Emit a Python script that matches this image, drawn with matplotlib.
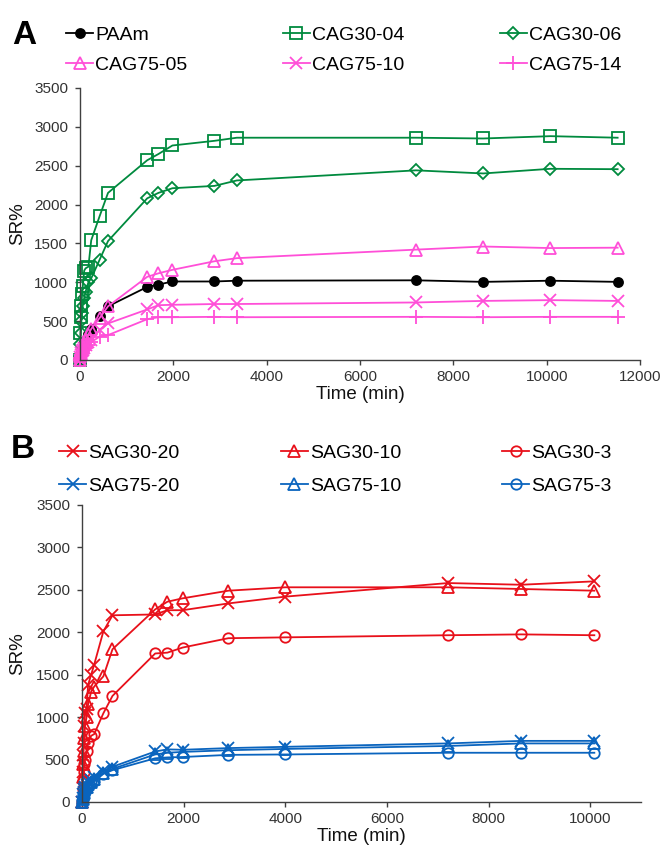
import matplotlib

matplotlib.use("Agg")
from matplotlib import pyplot as plt

plt.rcParams["font.family"] = ["Liberation Sans", "DejaVu Sans"]

GREEN = "#008a3e"
PINK = "#ff4fd8"
RED = "#e8101a"
BLUE = "#0a64be"

# panel A: swelling ratio vs time
time_a = [0, 10, 20, 30, 45, 60, 90, 120, 180, 240, 420, 600,
          1440, 1680, 1980, 2880, 3360, 7200, 8640, 10080, 11520]
paam = [0, 50, 80, 110, 140, 170, 220, 260, 330, 400, 560, 690,
        940, 970, 1010, 1010, 1020, 1025, 1005, 1020, 1005]
cag30_04 = [0, 350, 550, 700, 850, 950, 1150, 1180, 1200, 1540, 1850, 2150,
            2570, 2650, 2760, 2820, 2860, 2860, 2850, 2880, 2860]
cag30_06 = [0, 200, 350, 500, 600, 700, 800, 880, 1000, 1050, 1290, 1530,
            2080, 2150, 2210, 2240, 2310, 2440, 2400, 2460, 2455]
cag75_05 = [0, 50, 80, 110, 140, 170, 220, 260, 330, 400, 540, 690,
            1070, 1115, 1160, 1270, 1310, 1420, 1460, 1440, 1445]
cag75_10 = [0, 40, 70, 90, 110, 130, 160, 190, 230, 260, 390, 470,
            650, 705, 710, 720, 720, 740, 760, 770, 760]
cag75_14 = [0, 30, 50, 70, 90, 110, 130, 150, 190, 230, 300, 320,
            525, 550, 550, 555, 550, 555, 550, 555, 555]

# panel B
time_b = [0, 10, 20, 30, 45, 60, 90, 120, 180, 240, 420, 600,
          1440, 1680, 1980, 2880, 4000, 7200, 8640, 10080]
sag30_20 = [0, 350, 550, 700, 900, 1050, 1100, 1380, 1500, 1620, 2010, 2200,
            2210, 2260, 2260, 2340, 2420, 2580, 2560, 2600]
sag30_10 = [0, 300, 450, 600, 750, 900, 1000, 1150, 1300, 1360, 1480, 1800,
            2270, 2360, 2400, 2490, 2530, 2530, 2510, 2490]
sag30_3 = [0, 150, 250, 350, 450, 500, 600, 700, 780, 800, 1045, 1250,
           1750, 1760, 1820, 1930, 1940, 1965, 1975, 1965]
sag75_20 = [0, 50, 90, 120, 150, 180, 200, 230, 260, 290, 365, 415,
            595, 620, 615, 635, 650, 690, 720, 720]
sag75_10 = [0, 40, 80, 110, 140, 160, 180, 210, 240, 270, 340, 390,
            560, 580, 590, 610, 625, 660, 690, 690]
sag75_3 = [0, 30, 60, 90, 120, 140, 160, 190, 220, 245, 330, 375,
           515, 525, 530, 555, 560, 580, 580, 580]

TICK_COLOR = "#333333"


def style_axes(ax, xmax, xticks):
    ax.set_xlim(0, xmax)
    ax.set_ylim(0, 3500)
    ax.set_xticks(xticks)
    ax.set_yticks(range(0, 3501, 500))
    for side in ("top", "right"):
        ax.spines[side].set_visible(False)
    for side in ("left", "bottom"):
        ax.spines[side].set_color("#404040")
        ax.spines[side].set_linewidth(1.0)
    ax.tick_params(direction="out", length=3.5, width=1.0, color="#404040",
                   labelsize=11, labelcolor=TICK_COLOR)
    ax.tick_params(axis="y", pad=5)
    ax.tick_params(axis="x", pad=4)
    ax.set_xlabel("Time (min)", fontsize=13.5, color="#111111", labelpad=1)
    ax.set_ylabel("SR%", fontsize=13.5, color="#111111")


def series(ax, t, y, color, marker, ms, filled=False, label=None):
    return ax.plot(t, y, color=color, lw=1.3, marker=marker, ms=ms, mew=1.3,
                   mfc=color if filled else "none", mec=color,
                   clip_on=False, label=label)[0]


def legend_rows(ax, handles, anchor, pitch_pad, spacing):
    # reorder so that the legend fills row by row
    order = [0, 3, 1, 4, 2, 5]
    hs = [handles[i] for i in order]
    ax.legend(handles=hs, labels=[h.get_label() for h in hs], ncol=3,
              loc="upper left", bbox_to_anchor=anchor,
              bbox_transform=ax.figure.transFigure, frameon=False,
              fontsize=14, handlelength=1.4, handletextpad=0.1,
              columnspacing=pitch_pad, labelspacing=spacing, borderpad=0,
              borderaxespad=0)


fig = plt.figure(figsize=(6.64, 8.5), dpi=100)

ax0 = fig.add_axes([0.1205, 0.5765, 0.8434, 0.32])
h = [
    series(ax0, time_a, paam, "black", "o", 6.5, filled=True, label="PAAm"),
    series(ax0, time_a, cag30_04, GREEN, "s", 9, label="CAG30-04"),
    series(ax0, time_a, cag30_06, GREEN, "D", 6.3, label="CAG30-06"),
    series(ax0, time_a, cag75_05, PINK, "^", 9, label="CAG75-05"),
    series(ax0, time_a, cag75_10, PINK, "x", 9, label="CAG75-10"),
    series(ax0, time_a, cag75_14, PINK, "+", 10, label="CAG75-14"),
]
style_axes(ax0, 12000, range(0, 12001, 2000))
ax0.yaxis.set_label_coords(-0.097, 0.5)
legend_rows(ax0, h, (66 / 664, 1 - 26 / 850), 4.9, 0.67)

ax1 = fig.add_axes([0.1235, 0.0565, 0.842, 0.3494])
h = [
    series(ax1, time_b, sag30_20, RED, "x", 9, label="SAG30-20"),
    series(ax1, time_b, sag30_10, RED, "^", 8.5, label="SAG30-10"),
    series(ax1, time_b, sag30_3, RED, "o", 7.5, label="SAG30-3"),
    series(ax1, time_b, sag75_20, BLUE, "x", 9, label="SAG75-20"),
    series(ax1, time_b, sag75_10, BLUE, "^", 8.5, label="SAG75-10"),
    series(ax1, time_b, sag75_3, BLUE, "o", 7.5, label="SAG75-3"),
]
style_axes(ax1, 11000, range(0, 10001, 2000))
ax1.yaxis.set_label_coords(-0.1, 0.5)
legend_rows(ax1, h, (59 / 664, 1 - 444 / 850), 5.2, 0.82)

fig.text(12 / 664, 1 - 36 / 850, "A", fontsize=24, fontweight="bold",
         va="center", ha="left")
fig.text(11 / 664, 1 - 450 / 850, "B", fontsize=24, fontweight="bold",
         va="center", ha="left")

fig.savefig("out.png", dpi=100)
